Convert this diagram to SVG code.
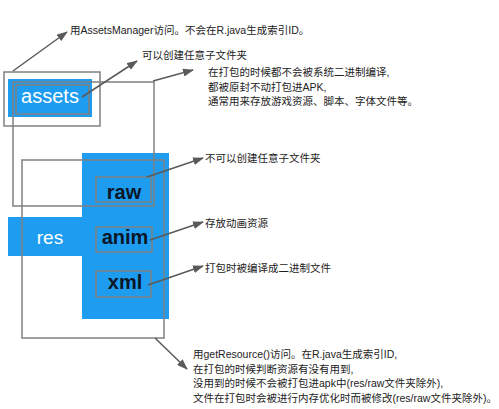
<svg xmlns="http://www.w3.org/2000/svg" width="499" height="409" viewBox="0 0 499 409">
<style>
.blue{fill:#1E9CF0;}
.sel{fill:none;stroke:#808080;stroke-width:1.5;}
.conn line{stroke:#5a5a5a;stroke-width:1.5;marker-end:url(#ah);}
.note{font-family:"Liberation Sans","Noto Sans CJK SC",sans-serif;font-size:10.5px;fill:#222;}
.wl{font-family:"Liberation Sans",Arial,sans-serif;fill:#fff;}
.bl{font-family:"Liberation Sans",Arial,sans-serif;font-weight:bold;font-size:20px;fill:#0b1626;text-anchor:middle;}
</style>
<defs>
<marker id="ah" markerUnits="userSpaceOnUse" markerWidth="11" markerHeight="8" refX="10" refY="4" orient="auto">
<path d="M0,0 L11,4 L0,8 z" fill="#5a5a5a"/>
</marker>
</defs>
<rect width="499" height="409" fill="#fff"/>
<g id="res">
<rect class="blue" x="82" y="153" width="87" height="166"/>
<rect class="blue" x="8" y="217" width="74" height="39"/>
<text class="wl" x="50" y="244" font-size="19" text-anchor="middle">res</text>
<rect class="sel" x="22" y="160" width="142" height="178"/>
</g>
<g id="assets">
<rect class="blue" x="8" y="79" width="84" height="38"/>
<rect class="sel" x="4" y="72" width="96" height="54"/>
<rect class="sel" x="13" y="82" width="141" height="124"/>
<rect class="sel" x="16" y="85" width="73" height="29"/>
<text class="wl" x="50" y="103" font-size="20" text-anchor="middle">assets</text>
</g>
<g id="raw">
<rect class="sel" x="96" y="177" width="55" height="25"/>
<text class="bl" x="124" y="199">raw</text>
</g>
<g id="anim">
<rect class="sel" x="96" y="227" width="56" height="25"/>
<text class="bl" x="125" y="244">anim</text>
</g>
<g id="xml">
<rect class="sel" x="96" y="271" width="55" height="26"/>
<text class="bl" x="125" y="289">xml</text>
</g>
<g id="connectors" class="conn">
<line x1="13" y1="71" x2="67" y2="32"/>
<line x1="82" y1="97" x2="137" y2="61"/>
<line x1="153" y1="81" x2="193" y2="70"/>
<line x1="147" y1="177" x2="203" y2="158"/>
<line x1="150" y1="240" x2="203" y2="222"/>
<line x1="148" y1="285" x2="203" y2="266"/>
<line x1="155" y1="338" x2="187" y2="369"/>
</g>
<g id="notes">
<text class="note" x="70" y="34">用AssetsManager访问。不会在R.java生成索引ID。</text>
<text class="note" x="142" y="59">可以创建任意子文件夹</text>
<text class="note" x="208" y="76">在打包的时候都不会被系统二进制编译,</text>
<text class="note" x="208" y="91">都被原封不动打包进APK,</text>
<text class="note" x="208" y="105">通常用来存放游戏资源、脚本、字体文件等。</text>
<text class="note" x="205" y="162">不可以创建任意子文件夹</text>
<text class="note" x="205" y="227">存放动画资源</text>
<text class="note" x="205" y="272">打包时被编译成二进制文件</text>
<text class="note" x="193" y="358">用getResource()访问。在R.java生成索引ID,</text>
<text class="note" x="193" y="373">在打包的时候判断资源有没有用到,</text>
<text class="note" x="193" y="387">没用到的时候不会被打包进apk中(res/raw文件夹除外),</text>
<text class="note" x="193" y="402">文件在打包时会被进行内存优化时而被修改(res/raw文件夹除外)。</text>
</g>
</svg>
